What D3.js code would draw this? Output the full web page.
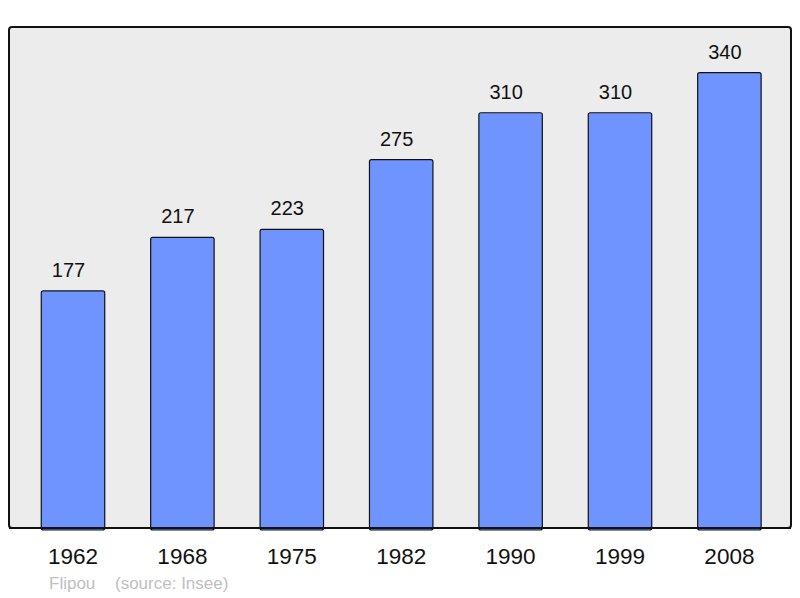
<!DOCTYPE html>
<html>
<head>
<meta charset="utf-8">
<script src="https://cdn.jsdelivr.net/npm/d3@7"></script>
<style>
  body { margin: 0; background: #fff; }
  svg text { font-family: 'Liberation Sans', Arial, sans-serif; }
</style>
</head>
<body>
<script>
// population by census year
var years = ['1962', '1968', '1975', '1982', '1990', '1999', '2008'];
var population = [177, 217, 223, 275, 310, 310, 340];
var credit = 'Flipou';
var source = '(source: Insee)';

var width = 800, height = 598;
var frame = {left: 9, top: 27, right: 791, bottom: 528};

var svg = d3.select('body').append('svg')
    .attr('width', width)
    .attr('height', height);

svg.append('rect')
    .attr('x', frame.left)
    .attr('y', frame.top)
    .attr('width', frame.right - frame.left)
    .attr('height', frame.bottom - frame.top)
    .attr('rx', 3)
    .attr('fill', '#ececec')
    .attr('stroke', '#111')
    .attr('stroke-width', 2);

var data = years.map(function(y, i){ return {year: y, value: population[i]}; });

var x = d3.scaleBand()
    .domain(years)
    .range([18.3, 784.1])
    .paddingInner(0.42)
    .paddingOuter(0.21);

var y = d3.scaleLinear()
    .domain([0, d3.max(population) * 1.1])
    .range([frame.bottom, frame.top]);

svg.selectAll('.bar')
    .data(data)
    .enter()
    .append('rect')
    .attr('class', 'bar')
    .attr('x', d => x(d.year))
    .attr('y', d => y(d.value))
    .attr('width', x.bandwidth())
    .attr('height', d => frame.bottom - y(d.value) + 2)
    .attr('rx', 2)
    .attr('fill', '#7094ff')
    .attr('stroke', '#111')
    .attr('stroke-width', 1.2);

// redraw bottom frame line over the bars
svg.append('line')
    .attr('x1', frame.left)
    .attr('x2', frame.right)
    .attr('y1', frame.bottom)
    .attr('y2', frame.bottom)
    .attr('stroke', '#111')
    .attr('stroke-width', 2);

// value labels sit a little left of the bar centre in the original
svg.selectAll('.val')
    .data(data)
    .enter()
    .append('text')
    .attr('class', 'val')
    .attr('x', d => x(d.year) + x.bandwidth() / 2 - 4.5)
    .attr('y', d => y(d.value) - 14)
    .attr('text-anchor', 'middle')
    .attr('font-size', 20)
    .attr('fill', '#111')
    .text(d => d.value);

// x axis labels
var xAxis = d3.axisBottom(x).tickSize(0).tickPadding(0);
var ax = svg.append('g')
    .attr('transform', 'translate(0,' + frame.bottom + ')')
    .call(xAxis);
ax.select('.domain').remove();
ax.selectAll('text')
    .attr('y', 36)
    .attr('dy', 0)
    .attr('font-size', 22.5)
    .attr('font-family', "'Liberation Sans', Arial, sans-serif")
    .attr('fill', '#111');

svg.append('text')
    .attr('x', 49)
    .attr('y', 589)
    .attr('font-size', 17)
    .attr('fill', '#c0c0c0')
    .text(credit);
svg.append('text')
    .attr('x', 115)
    .attr('y', 589)
    .attr('font-size', 17)
    .attr('fill', '#c0c0c0')
    .text(source);
</script>
</body>
</html>
